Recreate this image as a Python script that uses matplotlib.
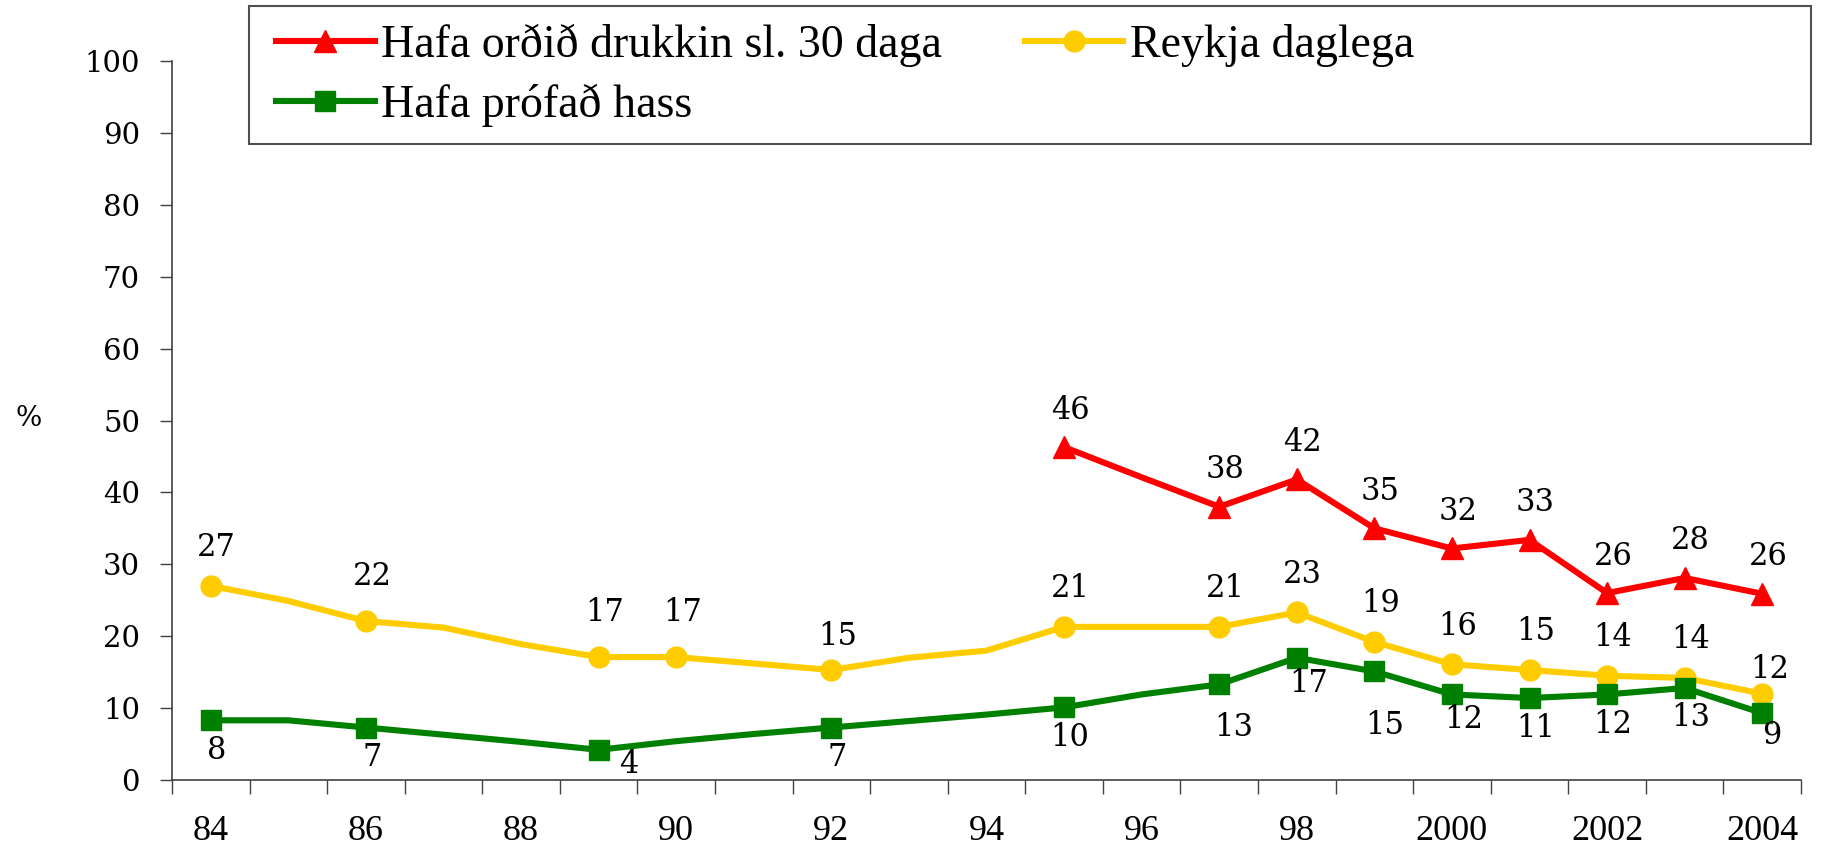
import numpy as np
import matplotlib.pyplot as plt
from matplotlib.patches import Rectangle

# --- données ---
years = list(range(1984, 2005))
tick_years = ['84', '86', '88', '90', '92', '94', '96', '98', '2000', '2002', '2004']

drukkin = [np.nan] * 11 + [46.3, 42.1, 38.0, 41.8, 35.0, 32.2, 33.4, 26.0, 28.1, 25.9]
reykja = [27.0, 24.9, 22.1, 21.2, 18.9, 17.1, 17.1, 16.2, 15.3, 17.0, 18.0,
          21.3, 21.3, 21.3, 23.3, 19.2, 16.1, 15.3, 14.5, 14.2, 12.0]
hass = [8.3, 8.3, 7.3, 6.3, 5.3, 4.2, 5.4, 6.4, 7.3, 8.2, 9.1,
        10.1, 11.9, 13.3, 17.0, 15.1, 11.9, 11.4, 11.9, 12.8, 9.3]

# années avec marqueur (et étiquette)
drukkin_marked = [1995, 1997, 1998, 1999, 2000, 2001, 2002, 2003, 2004]
reykja_marked = [1984, 1986, 1989, 1990, 1992, 1995, 1997, 1998, 1999,
                 2000, 2001, 2002, 2003, 2004]
hass_marked = [1984, 1986, 1989, 1992, 1995, 1997, 1998, 1999,
               2000, 2001, 2002, 2003, 2004]

labels = ['Hafa orðið drukkin sl. 30 daga', 'Reykja daglega', 'Hafa prófað hass']

RED, YELLOW, GREEN = '#FF0000', '#FFCC00', '#008000'
FONT = 'Liberation Serif'      # légende, années
NUMFONT = 'DejaVu Serif'       # étiquettes de valeurs, axe y
plt.rcParams['font.family'] = [FONT, 'DejaVu Serif']

W, H = 1834, 850
fig = plt.figure(figsize=(W / 100, H / 100), dpi=100)
ax = fig.add_axes([172 / W, 1 - 780 / H, (1801 - 172) / W, (780 - 61) / H])

x = np.arange(len(years))


def draw(values, marked, color, marker, ms, label):
    idx = [years.index(y) for y in marked]
    line, = ax.plot(x, values, color=color, lw=4.4, marker=marker, ms=ms,
                    markevery=idx, label=label, clip_on=False, zorder=3)
    return line, idx


def annotate(values, idx, dy, overrides):
    for i in idx:
        dx_i, dy_i = overrides.get(years[i], (6, dy))
        ax.annotate(f"{values[i]:.0f}", (x[i], values[i]),
                    xytext=(dx_i * 0.72, dy_i * 0.72), textcoords='offset points',
                    ha='center', va='center', fontsize=22, family=NUMFONT)


l_yel, i_yel = draw(reykja, reykja_marked, YELLOW, 'o', 15, labels[1])
l_grn, i_grn = draw(hass, hass_marked, GREEN, 's', 14, labels[2])
l_red, i_red = draw(drukkin, drukkin_marked, RED, '^', 16, labels[0])

annotate(reykja, i_yel, 38, {1986: (6, 45), 1989: (6, 45), 1990: (6, 45),
                             1992: (6, 33), 2004: (8, 24)})
annotate(hass, i_grn, -30, {1989: (30, -15), 1997: (15, -43), 1999: (10, -54),
                            2000: (12, -25), 1998: (12, -26), 2004: (10, -22)})
annotate(drukkin, i_red, 37, {})

# axes
ax.set_ylim(0, 100)
ax.set_xlim(-0.5, len(years) - 0.5)
ax.set_yticks(np.arange(0, 101, 10))
ax.tick_params(axis='y', length=9, width=1, pad=14, labelsize=21, color='#404040')
ax.set_xticks(np.arange(-0.5, len(years)), labels=[])
ax.set_xticks(np.arange(0, len(years), 2), labels=tick_years, minor=True)
ax.tick_params(axis='x', which='major', length=10, width=1, color='#404040')
ax.tick_params(axis='x', which='minor', length=0, pad=25, labelsize=26)
for lab in ax.get_yticklabels():
    lab.set_family(NUMFONT)
for lab in ax.get_xticklabels(minor=True):
    lab.set_family(FONT)
for s in ['top', 'right']:
    ax.spines[s].set_visible(False)
for s in ['left', 'bottom']:
    ax.spines[s].set_color('#404040')
    ax.spines[s].set_linewidth(1.2)

fig.text(29 / W, 1 - 419 / H, '%', fontsize=20, family=NUMFONT, ha='center', va='center')

# légende
fig.patches.append(Rectangle((249 / W, 1 - 144 / H), (1811 - 249) / W, 138 / H,
                             transform=fig.transFigure, fill=False,
                             edgecolor='#505050', lw=1.5))
fig.legend([l_red, l_grn, l_yel], [labels[0], labels[2], labels[1]], ncol=2,
           loc='upper left', bbox_to_anchor=(276 / W, 1 - 24 / H),
           frameon=False, handlelength=2.15, handletextpad=0.15,
           columnspacing=1.8, labelspacing=0.35, borderpad=0, borderaxespad=0,
           prop={'family': FONT, 'size': 33})

fig.savefig('out.png', dpi=100)
